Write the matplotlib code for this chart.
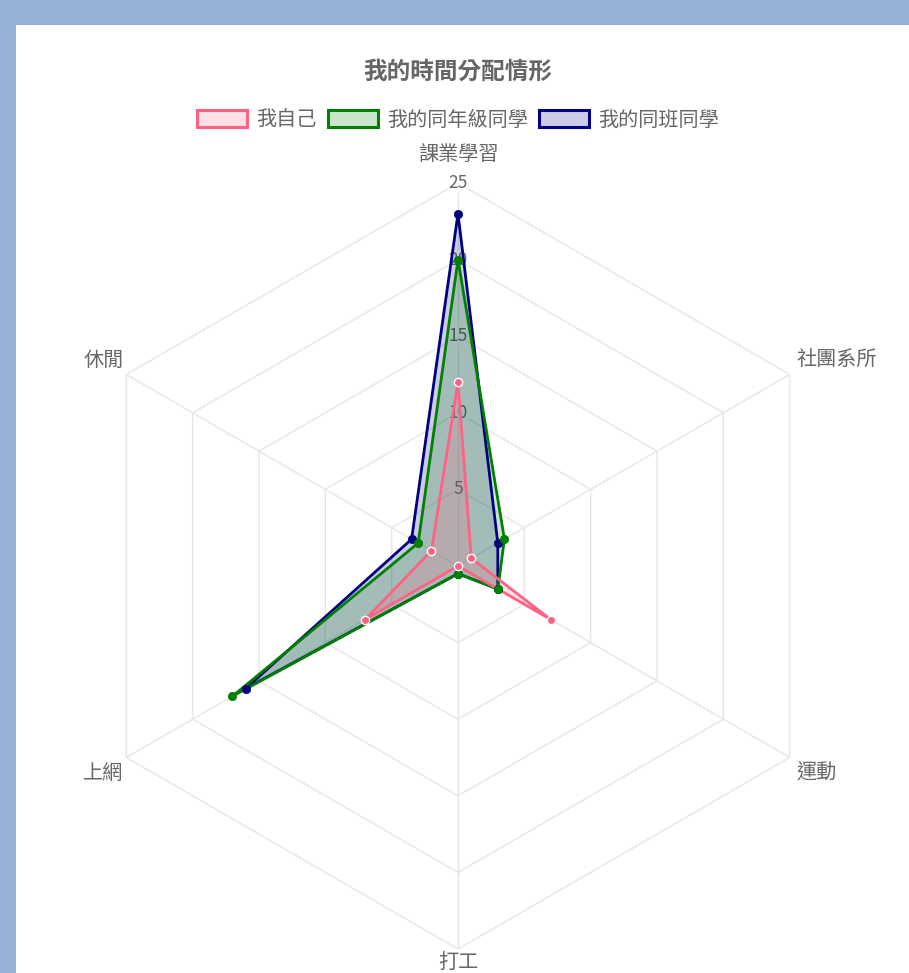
import numpy as np
import matplotlib
matplotlib.use("Agg")
import matplotlib.pyplot as plt
from matplotlib.patches import Rectangle, Patch

plt.rcParams['font.family'] = ['Noto Sans CJK TC', 'DejaVu Sans']

title = '我的時間分配情形'
categories = ['課業學習', '社團系所', '運動', '打工', '上網', '休閒']
series_names = ['我自己', '我的同年級同學', '我的同班同學']
self_vals = [12, 1, 7, 0, 7, 2]
grade_vals = [20, 3.5, 3, 0.5, 17, 3]
class_vals = [23, 3, 3, 0.5, 16, 3.5]
tick_vals = [5, 10, 15, 20, 25]

border_colors = ['#ff6384', '#008000', '#000080']
fill_colors = [(1.0, 0.388, 0.518, 0.2), (0.0, 0.5, 0.0, 0.2), (0.0, 0.0, 0.5, 0.2)]
legend_fill = ['#ffe0e6', '#cce6cc', '#ccccE6']
text_color = '#666666'
grid_color = '#e6e6e6'

W, H = 909, 973
fig = plt.figure(figsize=(W / 100, H / 100), dpi=100)
fig.patch.set_facecolor('#95b3d7')
fig.add_artist(Rectangle((16 / W, 0), 1 - 16 / W, (H - 25) / H,
                         transform=fig.transFigure, facecolor='white',
                         edgecolor='none', zorder=0))

cx, cy, R = 458, 566, 383
ax = fig.add_axes([(cx - R) / W, (H - cy - R) / H, 2 * R / W, 2 * R / H],
                  projection='polar')
ax.set_facecolor('none')
ax.set_theta_offset(np.pi / 2)
ax.set_theta_direction(-1)
ax.set_ylim(0, 25)
ax.spines['polar'].set_visible(False)
ax.grid(False)
ax.set_xticks([])
ax.set_yticks([])

n = len(categories)
theta = np.arange(n) * 2 * np.pi / n
theta_c = np.append(theta, theta[0])

# hexagonal grid
for r in tick_vals:
    ax.plot(theta_c, [r] * (n + 1), color=grid_color, lw=1, zorder=1)
for t in theta:
    ax.plot([t, t], [0, tick_vals[-1]], color=grid_color, lw=1, zorder=1)

# tick labels
for r in tick_vals:
    ax.text(0, r, str(r), ha='center', va='center', fontsize=12.5,
            color=text_color, zorder=2,
            bbox=dict(boxstyle='square,pad=0.05', facecolor='white',
                      edgecolor='none', alpha=0.75))

# data (draw last dataset first so first is on top)
all_vals = [self_vals, grade_vals, class_vals]
for i in [2, 1, 0]:
    v = np.append(all_vals[i], all_vals[i][0])
    ax.fill(theta_c, v, facecolor=fill_colors[i], edgecolor='none', zorder=3)
for i in [2, 1, 0]:
    v = np.append(all_vals[i], all_vals[i][0])
    ax.plot(theta_c, v, color=border_colors[i], lw=2, zorder=4 + (2 - i) * 0.1,
            clip_on=False)
    mec = 'white' if i == 0 else border_colors[i]
    ax.plot(theta, all_vals[i], linestyle='none', marker='o', markersize=6,
            markerfacecolor=border_colors[i], markeredgecolor=mec,
            markeredgewidth=1 if i == 0 else 0.5, zorder=5 + (2 - i) * 0.1,
            clip_on=False)

# point labels
offsets = [(0, 29, 'center'), (7, 14, 'left'), (7, -16, 'left'),
           (0, -13, 'center'), (-3, -16, 'right'), (-3, 14, 'right')]
for t, lab, (dx, dy, ha) in zip(theta, categories, offsets):
    ax.annotate(lab, xy=(t, tick_vals[-1]), xytext=(dx, dy),
                textcoords='offset pixels', ha=ha, va='center',
                fontsize=14.5, color=text_color, annotation_clip=False)

# title
fig.text(cx / W, 1 - 72 / H, title, ha='center', va='center', fontsize=17,
         fontweight='bold', color=text_color)

# legend
handles = [Patch(facecolor=legend_fill[i], edgecolor=border_colors[i], lw=2.2)
           for i in range(3)]
leg = fig.legend(handles, series_names, loc='center', ncol=3,
                 bbox_to_anchor=(cx / W, 1 - 120 / H), frameon=False,
                 fontsize=14.5, handlelength=2.5, handleheight=0.95,
                 handletextpad=0.45, columnspacing=0.55, borderpad=0)
for txt in leg.get_texts():
    txt.set_color(text_color)

fig.savefig('out.png', dpi=100, facecolor=fig.get_facecolor())
